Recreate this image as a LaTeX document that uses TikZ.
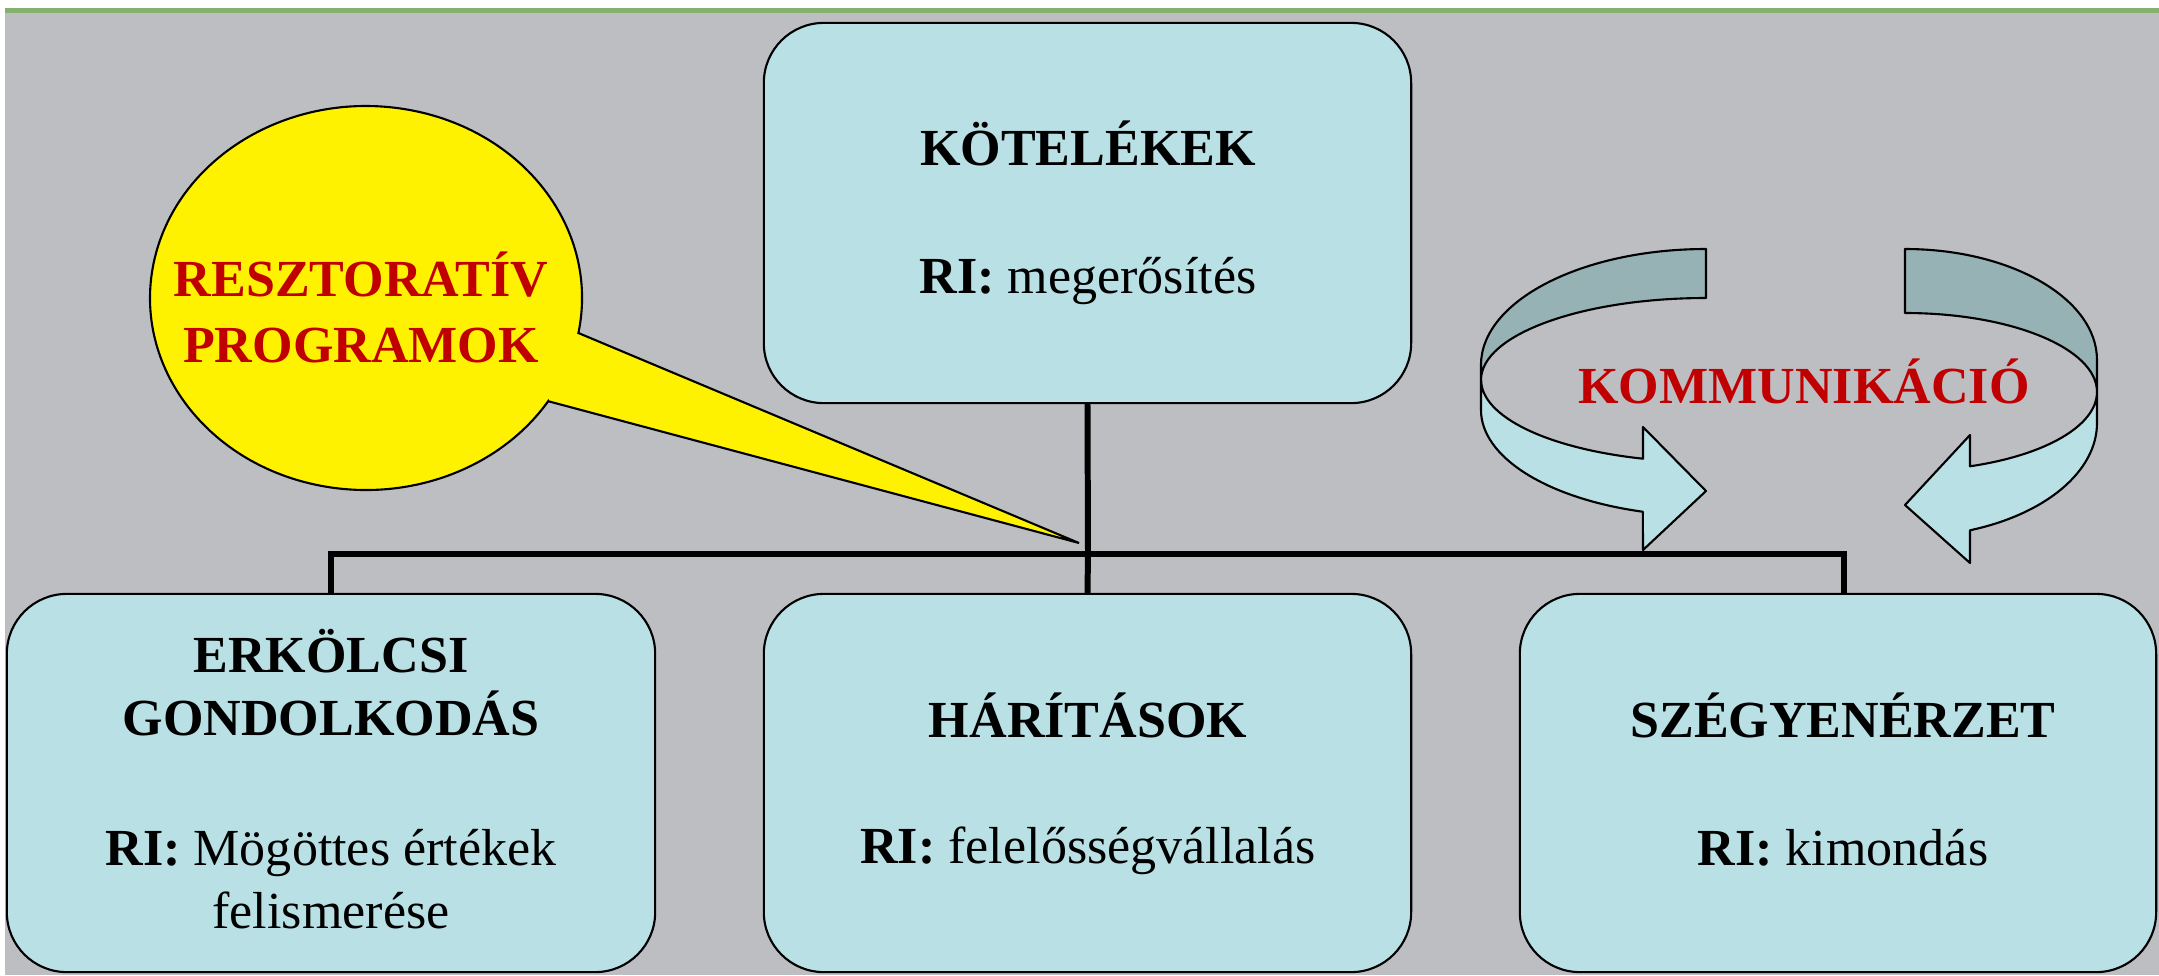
\documentclass[tikz,border=0pt]{standalone}
\usepackage{fontspec}
\setmainfont{Liberation Serif}
\definecolor{bg}{RGB}{189,190,194}
\definecolor{boxc}{RGB}{185,224,228}
\definecolor{darkband}{RGB}{150,178,180}
\definecolor{redt}{RGB}{192,0,0}
\definecolor{grn}{RGB}{134,176,110}
\tikzset{
  box/.style={draw=black, line width=0.6pt, fill=boxc, rounded corners=0.6cm, inner sep=0pt},
  lbl/.style={font=\fontsize{14.8}{17.9}\selectfont, align=center, anchor=base, inner sep=0pt},
  redlbl/.style={lbl, text=redt, font=\fontsize{14.8}{18.5}\selectfont\bfseries},
  conn/.style={line width=1.7pt, black},
  ribbon/.style={draw=black, line width=0.6pt, line join=round},
}
\begin{document}
\begin{tikzpicture}[x=0.01cm,y=-0.01cm]
\useasboundingbox (0,0) rectangle (2159,975);
\fill[white] (0,0) rectangle (2159,975);
\fill[bg] (5,12) rectangle (2159,975);
\fill[grn] (5,8) rectangle (2159,12.5);

% boxes and connectors
\coordinate (bus) at (1088,554);
\node[box, minimum width=6.47cm, minimum height=3.80cm] (kot) at (1087.5,213) {};
\node[box, minimum width=6.48cm, minimum height=3.78cm] (erk) at (331,783) {};
\node[box, minimum width=6.47cm, minimum height=3.78cm] (har) at (1087.5,783) {};
\node[box, minimum width=6.36cm, minimum height=3.78cm] (szeg) at (1838,783) {};
\draw[conn] (kot.south) -- (bus);
\draw[conn] (erk.north) |- (bus);
\draw[conn] (har.north) -- (bus);
\draw[conn] ([xshift=0.06cm]szeg.north) |- (bus);

% callout
\draw[fill=yellow, draw=black, line width=0.6pt]
  (548.2,401.2) -- (1079,543) -- (578.4,333)
  arc[start angle=10.5, end angle=-327.5, x radius=216, y radius=192] -- cycle;
\node[redlbl] (resz) at (361,362) {RESZTORATÍV\\PROGRAMOK};

% left circular arrow
\draw[ribbon, fill=darkband] (1706,249)
  arc[start angle=-90, end angle=-180, x radius=225, y radius=116]
  -- (1481,380)
  arc[start angle=-180, end angle=-90, x radius=225, y radius=82]
  -- cycle;
\draw[ribbon, fill=boxc] (1481,380) -- (1481,410)
  arc[start angle=180, end angle=106.3, x radius=225, y radius=106]
  -- (1643,550) -- (1706,491) -- (1643,427) -- (1643,458.7)
  arc[start angle=106.3, end angle=180, x radius=225, y radius=82]
  -- cycle;

% right circular arrow
\draw[ribbon, fill=darkband] (1905,249)
  arc[start angle=-90, end angle=0, x radius=192, y radius=111]
  -- (2097,392)
  arc[start angle=0, end angle=-90, x radius=192, y radius=79]
  -- cycle;
\draw[ribbon, fill=boxc] (2097,392) -- (2097,423)
  arc[start angle=0, end angle=70.2, x radius=192, y radius=114]
  -- (1970,563) -- (1905,505) -- (1970,435) -- (1970,466.3)
  arc[start angle=70.2, end angle=0, x radius=192, y radius=79]
  -- cycle;
\node[redlbl] (komm) at (1804,403) {KOMMUNIKÁCIÓ};

% texts (anchor base = baseline of last line)
\node[lbl] (kott) at (1088,293) {\textbf{KÖTELÉKEK}\\[18.5pt]\textbf{RI:} megerősítés};
\node[lbl] (erkt) at (331,928) {\textbf{ERKÖLCSI}\\\textbf{GONDOLKODÁS}\\[19pt]\textbf{RI:} Mögöttes értékek\\felismerése};
\node[lbl] (hart) at (1088,863) {\textbf{HÁRÍTÁSOK}\\[17.9pt]\textbf{RI:} felelősségvállalás};
\node[lbl] (szegt) at (1843,865) {\textbf{SZÉGYENÉRZET}\\[18.3pt]\textbf{RI:} kimondás};
\end{tikzpicture}
\end{document}
